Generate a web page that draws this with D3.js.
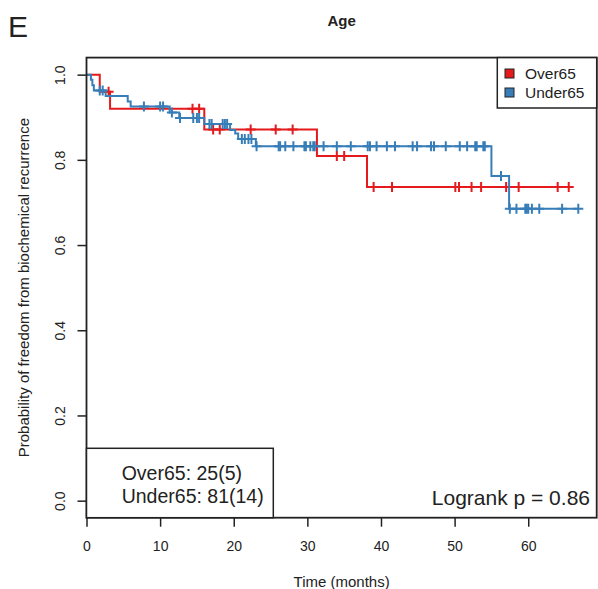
<!DOCTYPE html>
<html>
<head>
<meta charset="utf-8">
<script src="https://cdn.jsdelivr.net/npm/d3@7"></script>
<style>
  body { margin: 0; background: #fff; }
  text { font-family: "Liberation Sans", Arial, sans-serif; fill: #222; }
</style>
</head>
<body>
<div id="chart"></div>
<script>
var width = 598;
var height = 589;

var red = "#e41a1c";
var blue = "#377eb8";
var ink = "#222";

// Over65 curve: step times (months) and survival after each step
var overTimes = [0, 1.8, 3.2, 16.0, 31.3, 38.1];
var overSurv = [1, 0.96, 0.92, 0.871, 0.809, 0.736];
var overCensor = [3.0, 14.4, 15.3, 17.2, 18.1, 22.3, 25.7, 28.0, 34.0, 35.0,
  39.0, 41.5, 50.1, 50.6, 52.3, 53.6, 57.0, 58.7, 64.0, 65.5];

// Under65 curve
var underTimes = [0, 0.6, 0.8, 1.0, 2.6, 5.6, 6.0, 11.3, 12.6, 16.0, 19.5, 20.2, 20.6, 23.0, 55.0, 57.4];
var underSurv = [1, 0.988, 0.975, 0.963, 0.950, 0.937, 0.925, 0.911, 0.898, 0.884, 0.870, 0.862, 0.849, 0.832, 0.762, 0.685];
var underCensor = [1.8, 2.2, 7.8, 10.0, 10.4, 11.6, 12.7, 14.5, 15.0, 15.3, 16.7, 17.0,
  18.5, 18.8, 19.1, 21.1, 21.5, 22.0, 22.4, 23.1, 26.1, 26.3, 27.0, 28.1, 29.6, 29.8,
  30.4, 30.8, 31.0, 32.2, 34.0, 35.9, 38.2, 38.5, 39.4, 40.8, 41.9, 44.3, 44.9, 46.8,
  47.2, 48.8, 50.7, 51.7, 52.8, 53.0, 53.9, 54.1, 56.3, 57.5, 58.4, 59.6, 59.8, 60.0,
  60.5, 61.5, 64.6, 66.8];

var xTicks = [0, 10, 20, 30, 40, 50, 60];
var yTicks = [0, 0.2, 0.4, 0.6, 0.8, 1.0];

var groupNames = ["Over65", "Under65"];
var groupColors = [red, blue];
var countLines = ["Over65: 25(5)", "Under65: 81(14)"];
var pLabel = "Logrank p = 0.86";

var svg = d3.select("#chart").append("svg")
  .attr("width", width)
  .attr("height", height);

var x = d3.scaleLinear().domain([0, 69.3]).range([86.5, 596.7]);
var y = d3.scaleLinear().domain([-0.04, 1.04]).range([517.7, 57.6]);

// axes
var xAxis = svg.append("g")
  .attr("transform", "translate(0," + y.range()[0] + ")")
  .call(d3.axisBottom(x).tickValues(xTicks).tickSize(9).tickPadding(14.5));
var yAxis = svg.append("g")
  .attr("transform", "translate(" + x.range()[0] + ",0)")
  .call(d3.axisLeft(y).tickValues(yTicks).tickSize(9).tickFormat(d3.format(".1f")));

[xAxis, yAxis].forEach(function(g) {
  g.select(".domain").remove();
  g.selectAll("line").attr("stroke", ink).attr("stroke-width", 1.5);
  g.selectAll("text").style("font-size", "14px").attr("fill", ink);
});

yAxis.selectAll("text")
  .attr("x", 0)
  .attr("dy", 0)
  .attr("text-anchor", "middle")
  .attr("transform", "translate(-21.5,0) rotate(-90)");

// km curves
function curve(times, surv, censor, color) {
  var end = d3.max(censor);
  var pts = times.map(function(t, i) { return [t, surv[i]]; });
  pts.push([end, surv[surv.length - 1]]);

  var line = d3.line()
    .x(function(d) { return x(d[0]); })
    .y(function(d) { return y(d[1]); })
    .curve(d3.curveStepAfter);

  svg.append("path")
    .datum(pts)
    .attr("d", line)
    .attr("fill", "none")
    .attr("stroke", color)
    .attr("stroke-width", 2);

  // level of the curve at each censored time
  function level(t) {
    return surv[d3.bisectRight(times, t) - 1];
  }

  var marks = svg.append("g")
    .attr("stroke", color)
    .attr("stroke-width", 2);

  marks.selectAll("path")
    .data(censor)
    .enter().append("path")
      .attr("d", function(t) {
        var cx = x(t), cy = y(level(t));
        return "M" + (cx - 5) + "," + cy + "H" + (cx + 5) +
          "M" + cx + "," + (cy - 5) + "V" + (cy + 5);
      });
}

curve(overTimes, overSurv, overCensor, red);
curve(underTimes, underSurv, underCensor, blue);

// frame
svg.append("rect")
  .attr("x", x.range()[0])
  .attr("y", y.range()[1])
  .attr("width", x.range()[1] - x.range()[0])
  .attr("height", y.range()[0] - y.range()[1])
  .attr("fill", "none")
  .attr("stroke", ink)
  .attr("stroke-width", 1.8);

// legend top right
var legend = svg.append("g");
legend.append("rect")
  .attr("x", 497.3).attr("y", y.range()[1])
  .attr("width", x.range()[1] - 497.3).attr("height", 50.4)
  .attr("fill", "#fff").attr("stroke", ink).attr("stroke-width", 1.5);

groupNames.forEach(function(name, i) {
  var cy = 73.5 + i * 19;
  legend.append("rect")
    .attr("x", 505).attr("y", cy - 4.5)
    .attr("width", 9).attr("height", 9)
    .attr("fill", groupColors[i]).attr("stroke", ink).attr("stroke-width", 1);
  legend.append("text")
    .attr("x", 525).attr("y", cy).attr("dy", "0.35em")
    .style("font-size", "15.5px")
    .text(name);
});

// counts box bottom left
svg.append("rect")
  .attr("x", x.range()[0]).attr("y", 448.3)
  .attr("width", 273.3 - x.range()[0]).attr("height", y.range()[0] - 448.3)
  .attr("fill", "#fff").attr("stroke", ink).attr("stroke-width", 1.5);

svg.selectAll(".count")
  .data(countLines)
  .enter().append("text")
    .attr("class", "count")
    .attr("x", 121.7)
    .attr("y", function(d, i) { return 480 + i * 22.7; })
    .style("font-size", "19.5px")
    .text(function(d) { return d; });

svg.append("text")
  .attr("x", 590).attr("y", 505)
  .attr("text-anchor", "end")
  .style("font-size", "21px")
  .text(pLabel);

// titles
svg.append("text")
  .attr("x", 341.6).attr("y", 26)
  .attr("text-anchor", "middle")
  .style("font-size", "15px")
  .style("font-weight", "bold")
  .text("Age");

svg.append("text")
  .attr("x", 8).attr("y", 37)
  .style("font-size", "30px")
  .text("E");

svg.append("text")
  .attr("x", 341.6).attr("y", 587)
  .attr("text-anchor", "middle")
  .style("font-size", "15px")
  .text("Time (months)");

svg.append("text")
  .attr("transform", "translate(29," + ((y.range()[0] + y.range()[1]) / 2) + ") rotate(-90)")
  .attr("text-anchor", "middle")
  .style("font-size", "15px")
  .text("Probability of freedom from biochemical recurrence");
</script>
</body>
</html>
